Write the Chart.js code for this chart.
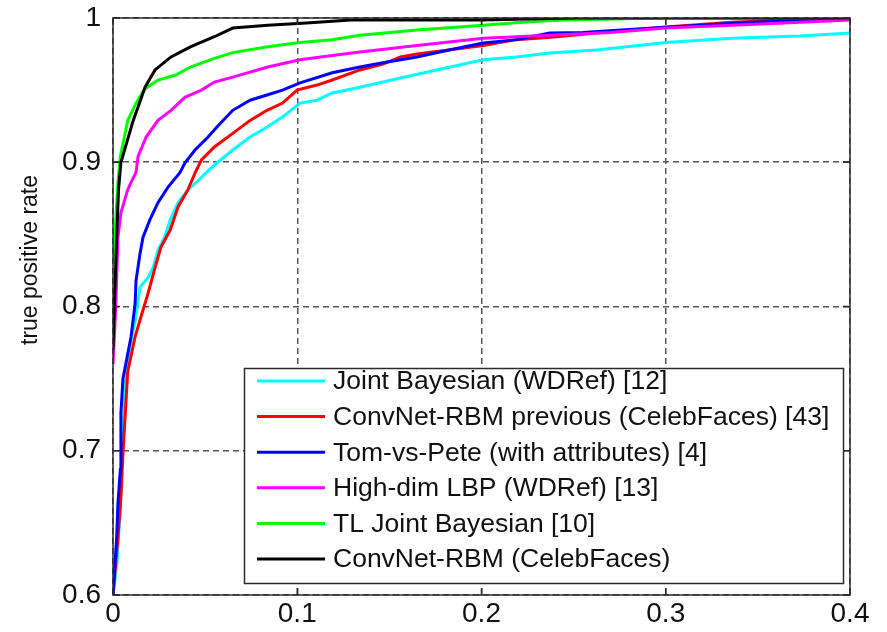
<!DOCTYPE html>
<html>
<head>
<meta charset="utf-8">
<script src="https://cdn.jsdelivr.net/npm/chart.js@4.4.1/dist/chart.umd.min.js"></script>
<style>
  html, body { margin: 0; padding: 0; background: #fff; }
  #c { display: block; }
</style>
</head>
<body>
<canvas id="c" width="887" height="632"></canvas>
<script>
// ---- data (false positive rate, true positive rate) ----
const seriesLabels = [
  'Joint Bayesian (WDRef) [12]',
  'ConvNet-RBM previous (CelebFaces) [43]',
  'Tom-vs-Pete (with attributes) [4]',
  'High-dim LBP (WDRef) [13]',
  'TL Joint Bayesian [10]',
  'ConvNet-RBM (CelebFaces)'
];
const seriesColors = ['#00ffff', '#ff0000', '#0000ff', '#ff00ff', '#00ff00', '#000000'];

const jointBayesX = [0, 0.002, 0.003, 0.004, 0.0045, 0.0054, 0.0065, 0.008, 0.010, 0.012, 0.0147, 0.019, 0.0217, 0.0244, 0.028, 0.031, 0.0353, 0.0407, 0.046, 0.0516, 0.0564, 0.065, 0.0744, 0.0836, 0.092, 0.1015, 0.1107, 0.119, 0.134, 0.156, 0.183, 0.201, 0.219, 0.237, 0.264, 0.30, 0.336, 0.373, 0.4];
const jointBayesY = [0.60, 0.62, 0.64, 0.66, 0.687, 0.71, 0.744, 0.763, 0.778, 0.79, 0.8135, 0.82, 0.827, 0.839, 0.848, 0.86, 0.872, 0.881, 0.887, 0.894, 0.8995, 0.9085, 0.9175, 0.9244, 0.9314, 0.941, 0.943, 0.948, 0.952, 0.9584, 0.966, 0.971, 0.973, 0.9757, 0.978, 0.983, 0.986, 0.9875, 0.9896];

const convPrevX = [0, 0.0027, 0.0043, 0.0054, 0.007, 0.008, 0.012, 0.0152, 0.019, 0.0228, 0.026, 0.031, 0.0353, 0.0407, 0.0445, 0.048, 0.055, 0.065, 0.0744, 0.0836, 0.092, 0.0999, 0.1107, 0.119, 0.134, 0.1465, 0.156, 0.165, 0.183, 0.201, 0.219, 0.241, 0.265, 0.30, 0.336, 0.364, 0.4];
const convPrevY = [0.60, 0.64, 0.668, 0.698, 0.733, 0.755, 0.779, 0.793, 0.809, 0.827, 0.841, 0.853, 0.869, 0.881, 0.8925, 0.9016, 0.9106, 0.92, 0.929, 0.936, 0.941, 0.95, 0.9535, 0.957, 0.964, 0.968, 0.973, 0.975, 0.978, 0.981, 0.985, 0.987, 0.990, 0.9938, 0.997, 0.9986, 1.0];

const tomPeteX = [0, 0.001, 0.002, 0.0027, 0.004, 0.0043, 0.0054, 0.0098, 0.012, 0.0125, 0.0147, 0.0163, 0.02, 0.0244, 0.03, 0.0364, 0.039, 0.0445, 0.0516, 0.0564, 0.065, 0.0744, 0.0836, 0.092, 0.1015, 0.119, 0.134, 0.1465, 0.165, 0.183, 0.201, 0.219, 0.237, 0.255, 0.28, 0.319, 0.346, 0.382, 0.4];
const tomPeteY = [0.60, 0.62, 0.64, 0.664, 0.687, 0.726, 0.75, 0.779, 0.802, 0.818, 0.837, 0.848, 0.86, 0.872, 0.883, 0.893, 0.8995, 0.9085, 0.9175, 0.9245, 0.936, 0.943, 0.9466, 0.95, 0.955, 0.962, 0.966, 0.969, 0.973, 0.978, 0.9827, 0.985, 0.9896, 0.990, 0.992, 0.995, 0.997, 0.9986, 1.0];

const highDimX = [0, 0.0015, 0.0027, 0.0043, 0.008, 0.0098, 0.0125, 0.0136, 0.018, 0.0244, 0.0315, 0.039, 0.048, 0.055, 0.065, 0.084, 0.1015, 0.119, 0.134, 0.165, 0.201, 0.237, 0.27, 0.30, 0.336, 0.373, 0.4];
const highDimY = [0.76, 0.80, 0.848, 0.865, 0.881, 0.886, 0.893, 0.904, 0.9175, 0.929, 0.936, 0.945, 0.95, 0.9556, 0.959, 0.966, 0.971, 0.974, 0.9764, 0.981, 0.986, 0.988, 0.990, 0.993, 0.995, 0.997, 0.9986];

const tlJointX = [0, 0.0015, 0.0027, 0.004, 0.008, 0.0125, 0.0174, 0.0244, 0.034, 0.042, 0.055, 0.065, 0.084, 0.1015, 0.119, 0.134, 0.165, 0.201, 0.2225, 0.244, 0.30, 0.4];
const tlJointY = [0.83, 0.86, 0.886, 0.904, 0.929, 0.941, 0.951, 0.957, 0.9605, 0.966, 0.972, 0.976, 0.98, 0.983, 0.985, 0.988, 0.9917, 0.995, 0.997, 0.9986, 1.0, 1.0];

const convRbmX = [0, 0.0015, 0.003, 0.0043, 0.011, 0.0174, 0.0228, 0.0315, 0.042, 0.055, 0.065, 0.084, 0.105, 0.129, 0.2, 0.25, 0.4];
const convRbmY = [0.77, 0.83, 0.881, 0.90, 0.929, 0.952, 0.964, 0.973, 0.98, 0.987, 0.993, 0.995, 0.9965, 0.9986, 0.9986, 1.0, 1.0];

const seriesX = [jointBayesX, convPrevX, tomPeteX, highDimX, tlJointX, convRbmX];
const seriesY = [jointBayesY, convPrevY, tomPeteY, highDimY, tlJointY, convRbmY];

const xTickVals = [0, 0.1, 0.2, 0.3, 0.4];
const xTickLabels = ['0', '0.1', '0.2', '0.3', '0.4'];
const yTickVals = [0.6, 0.7, 0.8, 0.9, 1.0];
const yTickLabels = ['0.6', '0.7', '0.8', '0.9', '1'];
const yAxisTitle = 'true positive rate';

const FONT = "'Liberation Sans', Arial, sans-serif";
const FRAME = '#2b2b2b';
const GRID = '#555555';

const datasets = seriesLabels.map((lab, i) => ({
  label: lab,
  data: seriesX[i].map((x, k) => ({ x: x, y: seriesY[i][k] })),
  borderColor: seriesColors[i],
  backgroundColor: seriesColors[i],
  borderWidth: 3,
  pointRadius: 0,
  showLine: true,
  fill: false,
  tension: 0,
  order: seriesLabels.length - i
}));

const framePlugin = {
  id: 'frameAndLegend',
  afterDraw(chart) {
    const ctx = chart.ctx;
    const a = chart.chartArea;
    const xs = chart.scales.x, ys = chart.scales.y;
    ctx.save();
    // frame
    ctx.strokeStyle = FRAME;
    ctx.lineWidth = 1.5;
    ctx.setLineDash([]);
    ctx.strokeRect(a.left, a.top, a.right - a.left, a.bottom - a.top);
    // inside tick marks on all four sides
    const tl = 7;
    ctx.beginPath();
    xTickVals.forEach(v => {
      const px = xs.getPixelForValue(v);
      ctx.moveTo(px, a.bottom); ctx.lineTo(px, a.bottom - tl);
      ctx.moveTo(px, a.top); ctx.lineTo(px, a.top + tl);
    });
    yTickVals.forEach(v => {
      const py = ys.getPixelForValue(v);
      ctx.moveTo(a.left, py); ctx.lineTo(a.left + tl, py);
      ctx.moveTo(a.right, py); ctx.lineTo(a.right - tl, py);
    });
    ctx.stroke();

    // y axis title (rotated)
    ctx.save();
    ctx.translate(31, 260);
    ctx.rotate(-Math.PI / 2);
    ctx.font = '23px ' + FONT;
    ctx.fillStyle = '#111';
    ctx.textAlign = 'center';
    ctx.textBaseline = 'middle';
    ctx.fillText(yAxisTitle, 0, 0);
    ctx.restore();

    // legend box inside the plot
    const bx = 244.5, by = 368.5, bw = 599, bh = 215;
    ctx.fillStyle = '#ffffff';
    ctx.fillRect(bx, by, bw, bh);
    ctx.strokeStyle = FRAME;
    ctx.lineWidth = 1.5;
    ctx.strokeRect(bx, by, bw, bh);
    ctx.font = '26.5px ' + FONT;
    ctx.textBaseline = 'middle';
    ctx.textAlign = 'left';
    chart.data.datasets.forEach((ds, i) => {
      const cy = 381 + i * 35.6;
      ctx.strokeStyle = ds.borderColor;
      ctx.lineWidth = 3;
      ctx.beginPath();
      ctx.moveTo(257, cy); ctx.lineTo(325, cy);
      ctx.stroke();
      ctx.fillStyle = '#111';
      ctx.fillText(ds.label, 333, cy + 1);
    });
    ctx.restore();
  }
};

new Chart(document.getElementById('c'), {
  type: 'scatter',
  data: { datasets: datasets },
  options: {
    responsive: false,
    animation: false,
    devicePixelRatio: 1,
    layout: { padding: { top: 18, right: 37, left: 0, bottom: 0 } },
    plugins: { legend: { display: false }, tooltip: { enabled: false } },
    scales: {
      x: {
        type: 'linear', min: 0, max: 0.4,
        afterBuildTicks: s => { s.ticks = xTickVals.map(v => ({ value: v })); },
        afterFit: s => { s.height = 37; s.paddingLeft = 0; s.paddingRight = 0; },
        ticks: {
          autoSkip: false, maxRotation: 0, padding: 2,
          color: '#111', font: { family: FONT, size: 28 },
          callback: (v, i) => xTickLabels[i]
        },
        grid: { color: GRID, lineWidth: 1.5, drawTicks: false },
        border: { display: false, dash: [6, 4] }
      },
      y: {
        type: 'linear', min: 0.6, max: 1.0,
        afterBuildTicks: s => { s.ticks = yTickVals.map(v => ({ value: v })); },
        afterFit: s => { s.width = 113; s.paddingTop = 0; s.paddingBottom = 0; },
        ticks: {
          autoSkip: false, padding: 12,
          color: '#111', font: { family: FONT, size: 28 },
          callback: (v, i) => yTickLabels[i]
        },
        title: { display: false },
        grid: { color: GRID, lineWidth: 1.5, drawTicks: false },
        border: { display: false, dash: [6, 4] }
      }
    }
  },
  plugins: [framePlugin]
});
</script>
</body>
</html>
